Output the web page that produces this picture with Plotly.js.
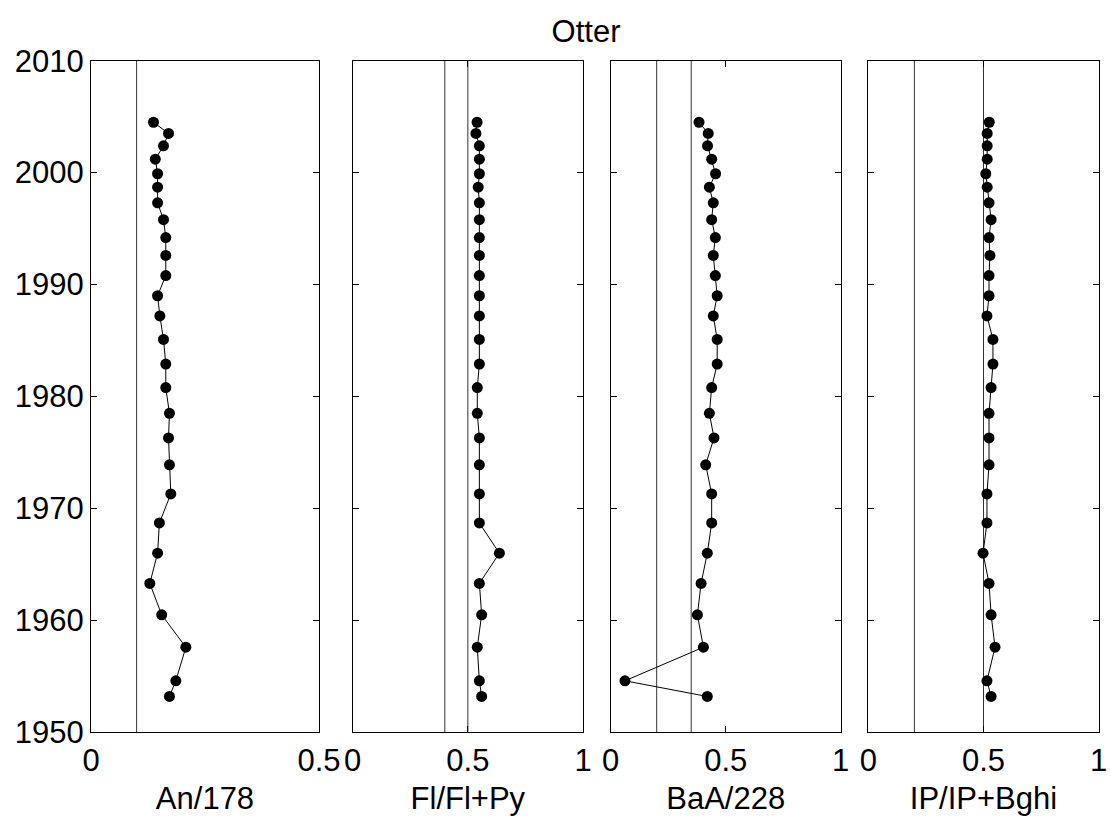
<!DOCTYPE html>
<html><head><meta charset="utf-8">
<script src="https://cdn.plot.ly/plotly-3.0.1.min.js"></script>
<style>html,body{margin:0;padding:0;background:#fff}</style>
</head><body><div id="chart" style="width:1111px;height:817px"></div>
<script>
// Sample years (top to bottom)
const years = [2004.5, 2003.5, 2002.4, 2001.2, 1999.9, 1998.7, 1997.3, 1995.8, 1994.2, 1992.6,
  1990.8, 1989.0, 1987.2, 1985.1, 1982.9, 1980.8, 1978.5, 1976.3, 1973.9, 1971.3,
  1968.7, 1966.0, 1963.3, 1960.5, 1957.6, 1954.6, 1953.2];
const an178 = [0.137, 0.170, 0.159, 0.141, 0.146, 0.146, 0.146, 0.159, 0.164, 0.164,
  0.164, 0.146, 0.151, 0.159, 0.164, 0.164, 0.172, 0.170, 0.172, 0.175,
  0.150, 0.146, 0.129, 0.155, 0.208, 0.186, 0.172];
const flPy = [0.540, 0.535, 0.550, 0.550, 0.550, 0.545, 0.550, 0.550, 0.550, 0.550,
  0.550, 0.550, 0.550, 0.550, 0.550, 0.541, 0.541, 0.550, 0.550, 0.550,
  0.550, 0.637, 0.550, 0.560, 0.541, 0.550, 0.560];
const baa228 = [0.384, 0.424, 0.421, 0.439, 0.456, 0.429, 0.446, 0.439, 0.455, 0.446,
  0.455, 0.463, 0.446, 0.463, 0.463, 0.439, 0.429, 0.449, 0.413, 0.439,
  0.439, 0.420, 0.393, 0.377, 0.403, 0.062, 0.420];
const ipBghi = [0.525, 0.516, 0.516, 0.516, 0.510, 0.516, 0.524, 0.533, 0.524, 0.528,
  0.524, 0.524, 0.515, 0.541, 0.541, 0.533, 0.524, 0.524, 0.524, 0.515,
  0.515, 0.498, 0.524, 0.533, 0.550, 0.515, 0.533];

const panelTitles = ['An/178', 'Fl/Fl+Py', 'BaA/228', 'IP/IP+Bghi'];
const xRanges = [[0, 0.5], [0, 1], [0, 1], [0, 1]];
const xTickVals = [[0, 0.5], [0, 0.5, 1], [0, 0.5, 1], [0, 0.5, 1]];
const refLines = [[0.1], [0.4, 0.5], [0.2, 0.35], [0.2, 0.5]];
const yRange = [1950, 2010];
const yTickVals = [1950, 1960, 1970, 1980, 1990, 2000, 2010];
const chartTitle = 'Otter';

const series = [an178, flPy, baa228, ipBghi];
const W = 1111, H = 817;
const xDomPx = [[91, 319], [352.7, 583], [610.7, 840.7], [868.3, 1098.7]];
const yDom = [(H - 732.3) / H, (H - 60.7) / H];
const FONT = 'Arial, "Liberation Sans", sans-serif';

const data = [];
const layout = {
  width: W, height: H,
  margin: {l: 0, r: 0, t: 0, b: 0},
  paper_bgcolor: '#fff', plot_bgcolor: '#fff',
  showlegend: false,
  font: {family: FONT, size: 30, color: '#000'},
  title: {text: chartTitle, font: {family: FONT, size: 31, color: '#000'},
    x: 586 / W, xanchor: 'center', xref: 'paper', y: 1 - 31 / H, yanchor: 'middle', yref: 'container'},
  shapes: []
};

series.forEach((vals, i) => {
  const n = i + 1;
  const xa = n === 1 ? 'x' : 'x' + n;
  const ya = n === 1 ? 'y' : 'y' + n;
  data.push({
    type: 'scatter', mode: 'lines+markers',
    x: vals, y: years, xaxis: xa, yaxis: ya,
    line: {color: '#000', width: 1},
    marker: {color: '#000', size: 11, symbol: 'circle'},
    cliponaxis: false
  });
  const xk = n === 1 ? 'xaxis' : 'xaxis' + n;
  const yk = n === 1 ? 'yaxis' : 'yaxis' + n;
  layout[xk] = {
    domain: [xDomPx[i][0] / W, xDomPx[i][1] / W],
    anchor: ya, range: xRanges[i],
    tickmode: 'array', tickvals: xTickVals[i],
    ticks: 'inside', ticklen: 6, tickcolor: '#000', tickwidth: 1,
    showline: true, linecolor: '#000', linewidth: 1, mirror: 'ticks',
    showgrid: false, zeroline: false, automargin: false,
    tickfont: {family: FONT, size: 31, color: '#000'},
    title: {text: panelTitles[i], font: {family: FONT, size: 31, color: '#000'}, standoff: 10}
  };
  layout[yk] = {
    domain: yDom, anchor: xa, range: yRange,
    tickmode: 'array', tickvals: yTickVals,
    ticks: 'inside', ticklen: 6, tickcolor: '#000', tickwidth: 1,
    showline: true, linecolor: '#000', linewidth: 1, mirror: 'ticks',
    showgrid: false, zeroline: false, automargin: false,
    showticklabels: n === 1,
    tickfont: {family: FONT, size: 31, color: '#000'}
  };
  refLines[i].forEach(v => {
    layout.shapes.push({
      type: 'line', xref: xa, yref: ya + ' domain',
      x0: v, x1: v, y0: 0, y1: 1,
      line: {color: '#333', width: 1}, layer: 'below'
    });
  });
});

Plotly.newPlot('chart', data, layout, {displayModeBar: false, staticPlot: true});
</script>
</body></html>
